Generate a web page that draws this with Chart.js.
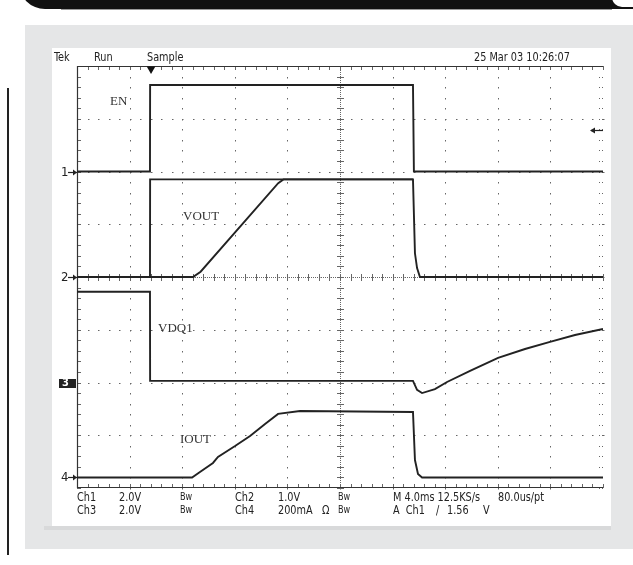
<!DOCTYPE html>
<html>
<head>
<meta charset="utf-8">
<script src="https://cdn.jsdelivr.net/npm/chart.js@4.4.0/dist/chart.umd.min.js"></script>
<style>
  html, body { margin: 0; padding: 0; background: #fff; }
  #page { position: relative; width: 633px; height: 565px; overflow: hidden; }
  .deco { position: absolute; }
  .txt { position: absolute; font: 12px "Liberation Sans Narrow", "DejaVu Sans Condensed", sans-serif; color: #222; white-space: nowrap; line-height: 12px; transform: scaleX(0.9); transform-origin: left center; }
  .bw { font-size: 10px; }
  .tag { position: absolute; font: 13px "Liberation Serif", "DejaVu Serif", serif; color: #333; line-height: 13px; white-space: nowrap; }
  .mark { position: absolute; font: 13px "Liberation Sans Narrow", "DejaVu Sans Condensed", sans-serif; color: #222; line-height: 13px; }
  #scope { position: absolute; left: 0; top: 0; }
</style>
</head>
<body>
<div id="page">
  <div class="deco" style="left:19px;top:-30px;width:640px;height:39px;background:#111;border-bottom-left-radius:26px;"></div>
  <div class="deco" style="left:612px;top:-20px;width:40px;height:27px;background:#fff;border-bottom-left-radius:10px;"></div>
  <div class="deco" style="left:61px;top:9px;width:551px;height:1px;background:#999;"></div>
  <div class="deco" style="left:25px;top:25px;width:608px;height:524px;background:#e5e6e7;"></div>
  <div class="deco" style="left:44px;top:526px;width:567px;height:4px;background:#d8d9da;"></div>
  <div class="deco" style="left:52px;top:48px;width:559px;height:478px;background:#fff;"></div>
  <div class="deco" style="left:7px;top:88px;width:2px;height:467px;background:#222;"></div>

  <canvas id="scope" width="633" height="565"></canvas>

  <div class="txt" style="left:54px;top:51px;">Tek</div>
  <div class="txt" style="left:94px;top:51px;">Run</div>
  <div class="txt" style="left:147px;top:51px;">Sample</div>
  <div class="txt" style="left:474px;top:51px;">25 Mar 03 10:26:07</div>

  <div class="tag" style="left:110px;top:94px;">EN</div>
  <div class="tag" style="left:183px;top:209px;">VOUT</div>
  <div class="tag" style="left:158px;top:321px;">VDQ1</div>
  <div class="tag" style="left:180px;top:432px;">IOUT</div>

  <div class="mark" id="m1" style="left:61px;">1</div>
  <div class="mark" id="m2" style="left:61px;">2</div>
  <div class="mark" id="m3" style="left:62px;color:#fff;font-size:11px;font-weight:bold;">3</div>
  <div class="mark" id="m4" style="left:61px;">4</div>

  <div class="txt" style="left:77px;top:491px;">Ch1</div>
  <div class="txt" style="left:119px;top:491px;">2.0V</div>
  <div class="txt bw" style="left:180px;top:491px;">Bw</div>
  <div class="txt" style="left:235px;top:491px;">Ch2</div>
  <div class="txt" style="left:278px;top:491px;">1.0V</div>
  <div class="txt bw" style="left:338px;top:491px;">Bw</div>
  <div class="txt" style="left:393px;top:491px;">M 4.0ms 12.5KS/s</div>
  <div class="txt" style="left:498px;top:491px;">80.0us/pt</div>

  <div class="txt" style="left:77px;top:504px;">Ch3</div>
  <div class="txt" style="left:119px;top:504px;">2.0V</div>
  <div class="txt bw" style="left:180px;top:504px;">Bw</div>
  <div class="txt" style="left:235px;top:504px;">Ch4</div>
  <div class="txt" style="left:278px;top:504px;">200mA</div>
  <div class="txt" style="left:322px;top:504px;">Ω</div>
  <div class="txt bw" style="left:338px;top:504px;">Bw</div>
  <div class="txt" style="left:393px;top:504px;">A&nbsp; Ch1</div>
  <div class="txt" style="left:436px;top:504px;">/</div>
  <div class="txt" style="left:447px;top:504px;">1.56</div>
  <div class="txt" style="left:483px;top:504px;">V</div>
</div>

<script>
// scope settings
const msPerDiv = 4;
const xDivs = 10;
const yDivs = 8;
const ch1Offset = 6, ch1PerDiv = 2;     // V/div
const ch2Offset = 4, ch2PerDiv = 1;     // V/div
const ch3Offset = 2, ch3PerDiv = 2;     // V/div
const ch4Offset = 0.2, ch4PerDiv = 200; // mA/div
const triggerTime = 5.63;
const triggerLevel = 1.56;

// traces (time in ms from left edge)
const enTime = [0, 5.55, 5.56, 25.55, 25.62, 40];
const enVolts = [0, 0, 3.28, 3.28, 0, 0];

const ch2RefTime = [0, 5.55, 5.56, 25.55, 25.7, 25.86, 26.08, 40];
const ch2RefVolts = [0, 0, 1.85, 1.85, 0.45, 0.17, 0, 0];

const voutTime = [0, 8.82, 9.4, 15.3, 15.7, 25.55];
const voutVolts = [0, 0, 0.1, 1.78, 1.85, 1.85];

const vdqTime = [0, 5.55, 5.56, 25.55, 25.86, 26.24, 27.22, 28.14, 29.89, 32.02, 34.07, 35.97, 37.87, 40];
const vdqVolts = [3.44, 3.44, 0.06, 0.06, -0.28, -0.4, -0.25, 0.02, 0.44, 0.93, 1.27, 1.54, 1.8, 2.03];

const ioutTime = [0, 8.75, 9.35, 10.34, 10.72, 12.02, 13.16, 14.3, 15.29, 16.96, 25.55, 25.7, 25.93, 26.24, 40];
const ioutMilliamps = [0, 0, 21, 55, 78, 119, 157, 203, 241, 252, 248, 66, 13, 0, 0];

const toDivs = (times, vals, offset, perDiv) =>
  times.map((t, i) => ({ x: t, y: offset + vals[i] / perDiv }));

const trace = (data) => ({
  data,
  borderColor: "#222",
  borderWidth: 1.9,
  pointRadius: 0,
  tension: 0,
  fill: false,
});

const graticule = {
  id: "graticule",
  beforeDatasetsDraw(chart) {
    const { ctx, chartArea: a, scales: { x, y } } = chart;
    const px = (v) => Math.round(x.getPixelForValue(v));
    const py = (v) => Math.round(y.getPixelForValue(v));
    ctx.save();
    ctx.fillStyle = "#666";
    // dotted division lines
    for (let i = 1; i < xDivs; i++) {
      for (let j = 0; j <= yDivs * 5; j++) ctx.fillRect(px(i * msPerDiv), py(j / 5), 1, 1.5);
    }
    for (let j = 1; j < yDivs; j++) {
      for (let i = 0; i <= xDivs * 5; i++) ctx.fillRect(px((i * msPerDiv) / 5), py(j), 1.5, 1);
    }
    // centre cross: dense dots with minor ticks
    const cx = px((xDivs / 2) * msPerDiv), cy = py(yDivs / 2);
    for (let yy = a.top; yy < a.bottom; yy += 2) ctx.fillRect(cx, yy, 1, 1);
    for (let xx = a.left; xx < a.right; xx += 2) ctx.fillRect(xx, cy, 1, 1);
    for (let j = 0; j <= yDivs * 5; j++) ctx.fillRect(cx - 3, py(j / 5), 7, 1);
    for (let i = 0; i <= xDivs * 5; i++) ctx.fillRect(px((i * msPerDiv) / 5), cy - 3, 1, 7);
    // edge ticks
    for (let i = 0; i <= xDivs * 5; i++) {
      ctx.fillRect(px((i * msPerDiv) / 5), a.top, 1, 4);
      ctx.fillRect(px((i * msPerDiv) / 5), a.bottom - 4, 1, 4);
    }
    for (let j = 0; j <= yDivs * 5; j++) {
      ctx.fillRect(a.left, py(j / 5), 4, 1);
      ctx.fillRect(a.right - 4, py(j / 5), 1, 1);
      ctx.fillRect(a.right - 1, py(j / 5), 1, 1);
    }
    // solid frame (top, left, bottom)
    ctx.strokeStyle = "#333";
    ctx.lineWidth = 1.2;
    ctx.beginPath();
    ctx.moveTo(a.right, a.top + 0.5);
    ctx.lineTo(a.left + 0.5, a.top + 0.5);
    ctx.lineTo(a.left + 0.5, a.bottom - 0.5);
    ctx.lineTo(a.right, a.bottom - 0.5);
    ctx.stroke();
    ctx.restore();
  },
  afterDatasetsDraw(chart) {
    const { ctx, chartArea: a, scales: { y } } = chart;
    ctx.save();
    ctx.strokeStyle = "#222";
    ctx.fillStyle = "#222";
    ctx.lineWidth = 1.2;
    // channel ground markers on the left
    [ch1Offset, ch2Offset, ch4Offset].forEach((off) => {
      const yy = Math.round(y.getPixelForValue(off)) + 0.5;
      ctx.beginPath();
      ctx.moveTo(a.left - 9, yy);
      ctx.lineTo(a.left, yy);
      ctx.stroke();
      ctx.beginPath();
      ctx.moveTo(a.left, yy);
      ctx.lineTo(a.left - 4, yy - 3);
      ctx.lineTo(a.left - 4, yy + 3);
      ctx.fill();
    });
    const y3 = Math.round(y.getPixelForValue(ch3Offset));
    ctx.fillRect(a.left - 18, y3 - 4, 17, 9);
    // trigger level arrow on the right
    const yt = Math.round(y.getPixelForValue(ch1Offset + triggerLevel / ch1PerDiv)) + 0.5;
    ctx.beginPath();
    ctx.moveTo(a.right - 12, yt);
    ctx.lineTo(a.right, yt);
    ctx.stroke();
    ctx.beginPath();
    ctx.moveTo(a.right - 13, yt);
    ctx.lineTo(a.right - 8, yt - 3);
    ctx.lineTo(a.right - 8, yt + 3);
    ctx.fill();
    ctx.restore();
  },
};

const chart = new Chart(document.getElementById("scope"), {
  type: "line",
  data: {
    datasets: [
      trace(toDivs(enTime, enVolts, ch1Offset, ch1PerDiv)),
      trace(toDivs(ch2RefTime, ch2RefVolts, ch2Offset, ch2PerDiv)),
      trace(toDivs(voutTime, voutVolts, ch2Offset, ch2PerDiv)),
      trace(toDivs(vdqTime, vdqVolts, ch3Offset, ch3PerDiv)),
      trace(toDivs(ioutTime, ioutMilliamps, ch4Offset, ch4PerDiv)),
      {
        type: "scatter",
        data: [{ x: triggerTime, y: yDivs - 0.057 }],
        pointStyle: "triangle",
        rotation: 180,
        pointRadius: 5,
        backgroundColor: "#111",
        borderWidth: 0,
        clip: false,
      },
    ],
  },
  options: {
    responsive: false,
    animation: false,
    devicePixelRatio: 1,
    layout: { padding: { left: 77, top: 66, right: 30, bottom: 77 } },
    scales: {
      x: { type: "linear", min: 0, max: xDivs * msPerDiv, display: false },
      y: { type: "linear", min: 0, max: yDivs, display: false },
    },
    plugins: { legend: { display: false }, tooltip: { enabled: false } },
  },
  plugins: [graticule],
});

[["m1", ch1Offset], ["m2", ch2Offset], ["m3", ch3Offset], ["m4", ch4Offset]].forEach(([id, off]) => {
  document.getElementById(id).style.top = Math.round(chart.scales.y.getPixelForValue(off)) - 7 + "px";
});
</script>
</body>
</html>
